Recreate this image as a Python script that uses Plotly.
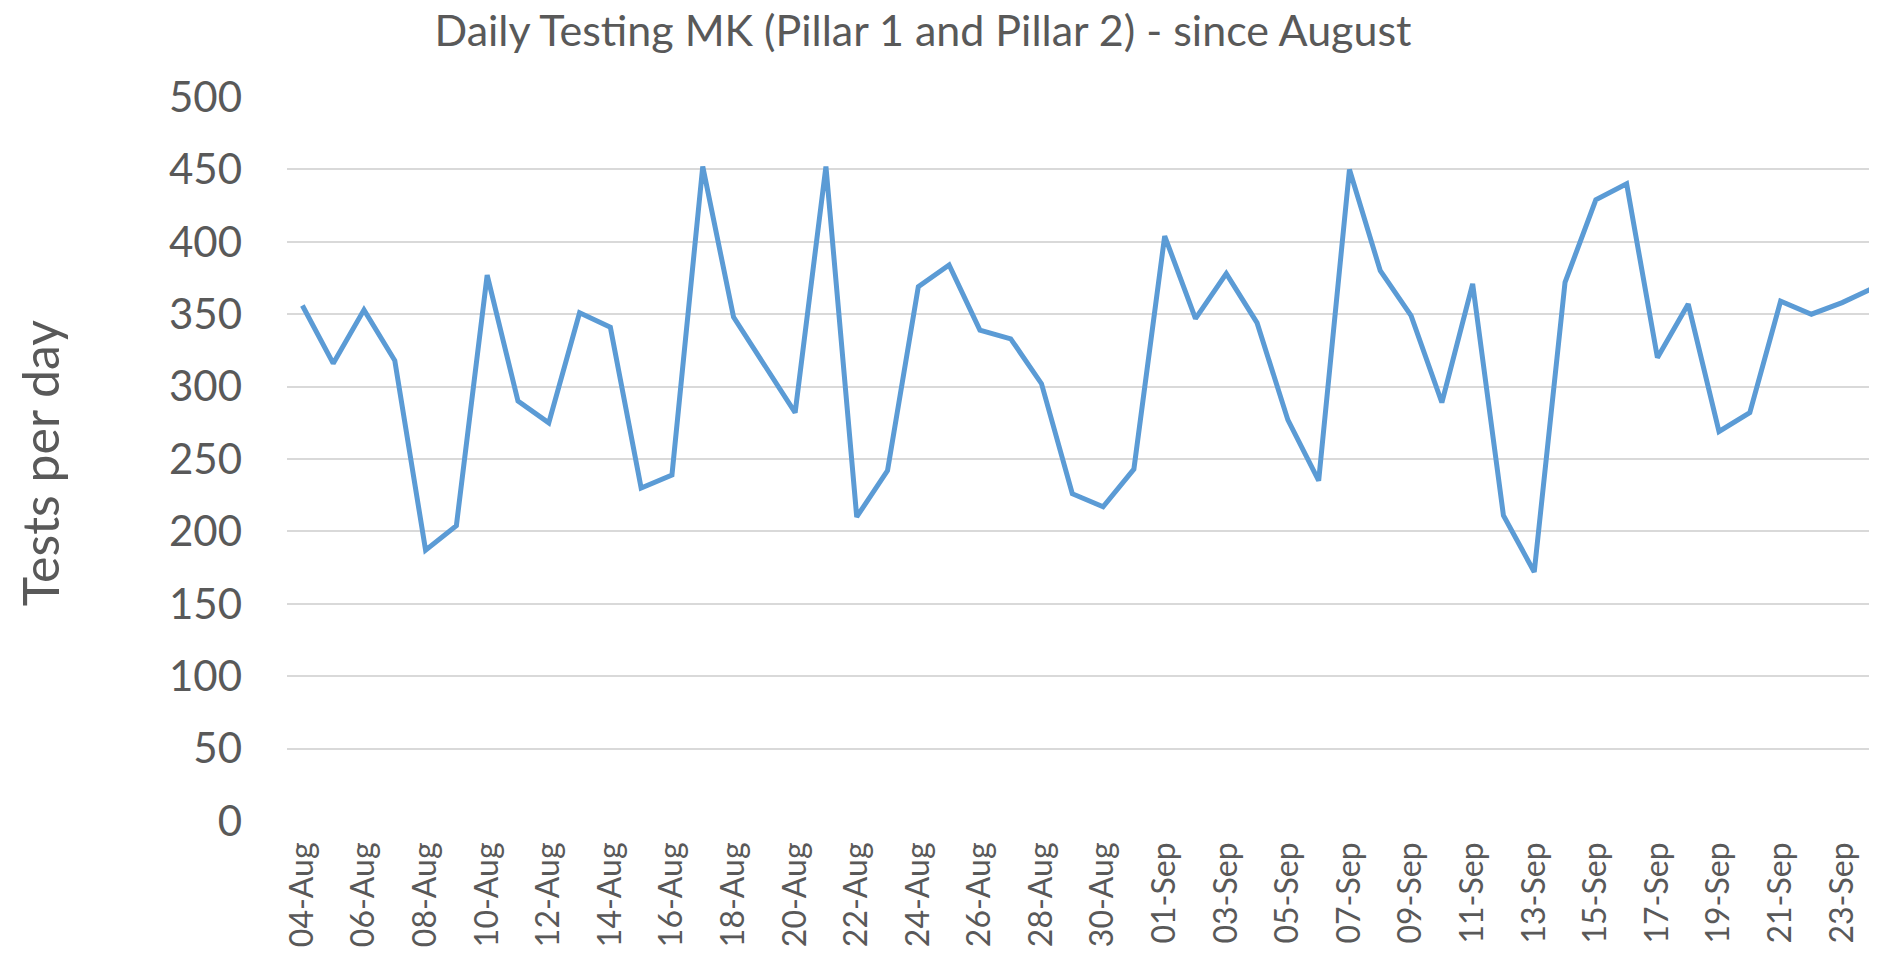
import plotly.graph_objects as go

dates = ["04-Aug", "05-Aug", "06-Aug", "07-Aug", "08-Aug", "09-Aug", "10-Aug", "11-Aug",
         "12-Aug", "13-Aug", "14-Aug", "15-Aug", "16-Aug", "17-Aug", "18-Aug", "19-Aug",
         "20-Aug", "21-Aug", "22-Aug", "23-Aug", "24-Aug", "25-Aug", "26-Aug", "27-Aug",
         "28-Aug", "29-Aug", "30-Aug", "31-Aug", "01-Sep", "02-Sep", "03-Sep", "04-Sep",
         "05-Sep", "06-Sep", "07-Sep", "08-Sep", "09-Sep", "10-Sep", "11-Sep", "12-Sep",
         "13-Sep", "14-Sep", "15-Sep", "16-Sep", "17-Sep", "18-Sep", "19-Sep", "20-Sep",
         "21-Sep", "22-Sep", "23-Sep", "24-Sep"]

tests_per_day = [356, 316, 353, 318, 187, 204, 377, 290,
                 275, 351, 341, 230, 239, 452, 348, 315,
                 282, 452, 210, 242, 369, 384, 339, 333,
                 302, 226, 217, 243, 404, 347, 378, 344,
                 277, 235, 450, 380, 349, 289, 371, 211,
                 172, 372, 429, 440, 320, 357, 269, 282,
                 359, 350, 358, 368]

y_ticks = [0, 50, 100, 150, 200, 250, 300, 350, 400, 450, 500]
x_ticks = dates[::2]

title_text = "Daily Testing MK (Pillar 1 and Pillar 2) - since August"
y_title = "Tests per day"

FONT = "Lato"
GREY = "#595959"

fig = go.Figure()
fig.add_trace(go.Scatter(
    x=dates, y=tests_per_day, mode="lines",
    line=dict(color="#5B9BD5", width=5),
    hoverinfo="x+y", showlegend=False,
))

# page body has an 8px margin; figure coordinates are offset by it
OFF = 8
W, H = 1877, 954
L, R, T, B = 287 - OFF, OFF, 97 - OFF, 954 - 821 + OFF

fig.update_layout(
    width=W, height=H,
    margin=dict(l=L, r=R, t=T, b=B, pad=0, autoexpand=False),
    paper_bgcolor="white", plot_bgcolor="white",
    font=dict(family=FONT, color=GREY),
    title=dict(text=title_text, x=(923 - OFF) / W, xref="container", xanchor="center",
               y=1 - (31 - OFF) / H, yref="container", yanchor="middle",
               font=dict(size=43, color=GREY, family=FONT)),
    xaxis=dict(
        type="category", range=[-0.5, 51.13], automargin=False,
        tickmode="array", tickvals=x_ticks, ticktext=x_ticks,
        tickangle=-90, tickfont=dict(size=32, color=GREY, family=FONT),
        showgrid=False, zeroline=False, showline=False, ticks="",
        ticklabelstandoff=14,
    ),
    yaxis=dict(
        range=[0, 500], tickmode="array", tickvals=y_ticks, automargin=False,
        tickfont=dict(size=42, color=GREY, family=FONT),
        showgrid=True, gridcolor="#D9D9D9", gridwidth=2,
        zeroline=False, showline=False, ticks="",
        ticklabelstandoff=44,
    ),
    annotations=[dict(
        text=y_title, xref="paper", yref="paper",
        x=(40 - OFF - L) / (W - L - R), y=0.494, xanchor="center", yanchor="middle",
        textangle=-90, showarrow=False,
        font=dict(size=50, color=GREY, family=FONT),
    )],
)

fig.write_html("out.html")
